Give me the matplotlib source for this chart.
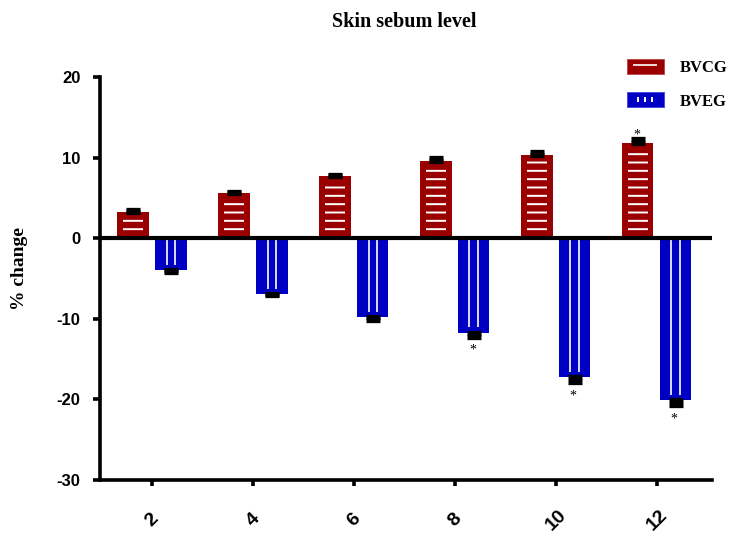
import numpy as np
import matplotlib
matplotlib.use('Agg')
import matplotlib.pyplot as plt
from matplotlib.patches import Patch
from matplotlib.lines import Line2D
from matplotlib.path import Path
from matplotlib.legend_handler import HandlerTuple

weeks = [2, 4, 6, 8, 10, 12]
bvcg = [3.3, 5.6, 7.7, 9.6, 10.3, 11.8]
bvcg_err = [0.15, 0.15, 0.2, 0.35, 0.45, 0.5]
bveg = [-4.0, -6.9, -9.8, -11.7, -17.2, -20.1]
bveg_err = [0.2, 0.2, 0.3, 0.5, 0.6, 0.6]
bvcg_sig = [False, False, False, False, False, True]
bveg_sig = [False, False, False, True, True, True]

RED = '#9b0000'
BLUE = '#0000c4'

plt.rcParams['hatch.linewidth'] = 1.4
plt.rcParams['axes.unicode_minus'] = False

fig = plt.figure(figsize=(7.3, 5.33), dpi=100)
ax = fig.add_axes([0.137, 0.0994, 0.838, 0.7561])

x = np.array(weeks, dtype=float)
w = 0.62
off = 0.375
xr = x - off
xb = x + off

# solid bars
ax.bar(xr, bvcg, width=w, color=RED, zorder=2)
ax.bar(xb, bveg, width=w, color=BLUE, zorder=2)

# white stripes inside the bars
ax.bar(xr, np.array(bvcg) - 1.1, bottom=0.4, width=w * 0.63, color='none',
       edgecolor='white', linewidth=0, hatch='--', zorder=2.5)
for xi, v in zip(xb, bveg):
    ax.vlines([xi - 0.085, xi + 0.085], 0, v + 0.65, color='white', lw=1.2, zorder=2.5)

# one-sided error bars
zeros = np.zeros(len(weeks))
ax.errorbar(xr, bvcg, yerr=[zeros, bvcg_err], fmt='none', ecolor='black',
            elinewidth=3, capsize=4.7, capthick=3.8, zorder=3)
ax.errorbar(xb, bveg, yerr=[bveg_err, zeros], fmt='none', ecolor='black',
            elinewidth=3, capsize=4.7, capthick=3.8, zorder=3)

# significance marks
for xi, v, e, s in zip(xr, bvcg, bvcg_err, bvcg_sig):
    if s:
        ax.annotate('*', (xi, v + e), xytext=(-1, 3), textcoords='offset points',
                    ha='center', va='center', fontsize=10, family='Liberation Serif')
for xi, v, e, s in zip(xb, bveg, bveg_err, bveg_sig):
    if s:
        ax.annotate('*', (xi, v - e), xytext=(-1, -10), textcoords='offset points',
                    ha='center', va='center', fontsize=10, family='Liberation Serif')

ax.axhline(0, color='black', lw=3, zorder=4)

ax.set_xlim(0.97, 13.09)
ax.set_ylim(-30, 20)
ax.set_yticks([-30, -20, -10, 0, 10, 20])
ax.set_xticks(weeks)

for s in ['top', 'right']:
    ax.spines[s].set_visible(False)
for s in ['left', 'bottom']:
    ax.spines[s].set_linewidth(2.6)
ax.tick_params(axis='y', length=5, width=2.6, pad=9)
ax.tick_params(axis='x', length=4.5, width=2.6, pad=0)

for lab in ax.get_yticklabels():
    lab.set_fontfamily('Liberation Sans')
    lab.set_fontweight('bold')
    lab.set_fontsize(12)
ax.set_xticklabels([str(v) for v in weeks], rotation=45, rotation_mode='anchor',
                   ha='center', va='center', fontsize=14, fontweight='bold',
                   family='Liberation Sans')
for lab in ax.get_xticklabels():
    lab.set_y(-0.083)

fig.text(0.554, 0.958, 'Skin sebum level', ha='center', va='center',
         fontsize=14.5, fontweight='bold', family='Liberation Serif')
fig.text(0.027, 1 - 268 / 533, '% change', rotation=90, ha='center', va='center',
         fontsize=14, fontweight='bold', family='Liberation Serif')

# legend keys: filled box with a short white dash / three short white ticks
ticks3 = Path([(-1, -0.36), (-1, 0.36), (0, -0.36), (0, 0.36), (1, -0.36), (1, 0.36)],
              [Path.MOVETO, Path.LINETO] * 3)
red_key = (Patch(facecolor=RED, edgecolor='#c04040', linewidth=0.6),
           Line2D([], [], ls='none', marker='_', markersize=17,
                  markeredgecolor='white', markeredgewidth=1.2))
blue_key = (Patch(facecolor=BLUE, edgecolor='#4040e0', linewidth=0.6),
            Line2D([], [], ls='none', marker=ticks3, markersize=10,
                   markeredgecolor='white', markeredgewidth=1.4))
fig.legend([red_key, blue_key], ['BVCG', 'BVEG'], loc='upper left',
           bbox_to_anchor=(0.859, 0.89), frameon=False,
           handler_map={tuple: HandlerTuple(ndivide=1)},
           handlelength=2.2, handleheight=1.0, handletextpad=0.95,
           labelspacing=1.0, borderpad=0, borderaxespad=0,
           prop={'family': 'Liberation Serif', 'weight': 'bold', 'size': 12})

fig.savefig('out.png', dpi=100)
